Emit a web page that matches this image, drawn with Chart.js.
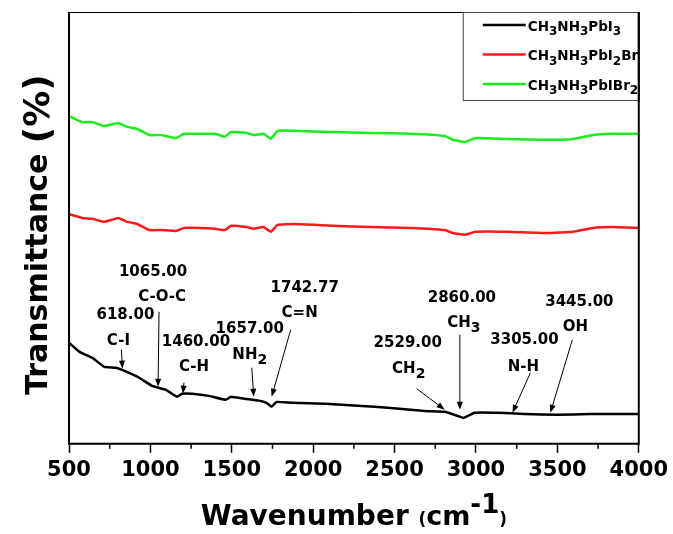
<!DOCTYPE html>
<html>
<head>
<meta charset="utf-8">
<script src="https://cdn.jsdelivr.net/npm/chart.js@4.4.1/dist/chart.umd.min.js"></script>
<style>
  html, body { margin: 0; padding: 0; background: #fff; }
  #wrap { width: 673px; height: 534px; }
</style>
</head>
<body>
<div id="wrap"><canvas id="ftir" width="673" height="534"></canvas></div>
<script>
// wavenumbers (cm-1)
const wnMixed = [500, 582, 644, 717, 803, 858, 919, 992, 1066, 1158, 1207, 1305, 1397, 1458, 1494, 1592, 1635, 1696, 1739, 1782, 1880, 2118, 2357, 2595, 2809, 2858, 2931, 2998, 3194, 3432, 3597, 3720, 3836, 4000];
// CH3NH3PbIBr2 (green)
const tIBr2 = [75.9, 74.5, 74.5, 73.6, 74.3, 73.4, 72.9, 71.5, 71.5, 70.8, 71.8, 71.8, 71.8, 71.1, 72.2, 72.0, 71.5, 71.8, 70.6, 72.5, 72.5, 72.2, 72.0, 71.8, 71.3, 70.4, 69.9, 70.8, 70.6, 70.4, 70.6, 71.5, 71.8, 71.8];
// CH3NH3PbI2Br (red)
const tI2Br = [53.2, 52.3, 52.1, 51.4, 52.3, 51.4, 50.9, 49.5, 49.5, 49.3, 50.0, 50.0, 49.8, 49.5, 50.5, 50.2, 49.8, 50.2, 49.1, 50.7, 50.9, 50.5, 50.2, 50.0, 49.5, 48.8, 48.4, 49.1, 49.1, 48.8, 49.1, 50.0, 50.2, 50.0];
// CH3NH3PbI3 (black)
const wnPbI3 = [500, 564, 644, 717, 790, 852, 931, 1011, 1096, 1163, 1195, 1257, 1360, 1463, 1494, 1586, 1665, 1713, 1744, 1775, 1866, 2073, 2275, 2477, 2685, 2808, 2869, 2924, 2991, 3132, 3297, 3499, 3700, 4000];
const tPbI3 = [23.4, 21.3, 19.9, 17.8, 17.6, 16.7, 15.3, 13.4, 12.5, 10.9, 11.6, 11.6, 11.1, 10.2, 10.9, 10.4, 10.0, 9.5, 8.6, 9.7, 9.5, 9.3, 8.8, 8.3, 7.6, 7.4, 6.7, 6.0, 7.2, 7.2, 6.9, 6.7, 6.9, 6.9];

// "_" marks the next character as a subscript
const seriesLabels = ['CH_3NH_3PbI_3', 'CH_3NH_3PbI_2Br', 'CH_3NH_3PbIBr_2'];
const seriesColors = ['#000000', '#ff1a1a', '#1aee1a'];

const xTicks = [500, 1000, 1500, 2000, 2500, 3000, 3500, 4000];

const peakValues = ['618.00', '1065.00', '1460.00', '1657.00', '1742.77', '2529.00', '2860.00', '3305.00', '3445.00'];
const peakGroups = ['C-I', 'C-O-C', 'C-H', 'NH_2', 'C=N', 'CH_2', 'CH_3', 'N-H', 'OH'];

// where each arrow points (data units) and where its tail / texts sit (px from the tip)
const peakLayout = [
  { tip: [828, 17.4],  tail: [-1, -19],  group: [-4, -28],  num: [3, -54] },
  { tip: [1047, 13.2], tail: [1, -75],   group: [4, -90],   num: [-5, -115] },
  { tip: [1200, 11.6], tail: [1, -11],   group: [11, -27],  num: [13, -52] },
  { tip: [1635, 10.9], tail: [-2, -29],  group: [-4, -42],  num: [-4, -68] },
  { tip: [1745, 10.9], tail: [19, -67],  group: [28, -84],  num: [33, -109] },
  { tip: [2808, 7.9],  tail: [-28, -21], group: [-36, -41], num: [-37, -67] },
  { tip: [2901, 7.9],  tail: [0, -75],   group: [4, -87],   num: [2, -112] },
  { tip: [3224, 7.2],  tail: [18, -40],  group: [11, -46],  num: [12, -73] },
  { tip: [3457, 7.2],  tail: [22, -73],  group: [25, -86],  num: [29, -111] }
];

const FONT = '"DejaVu Sans", sans-serif';

function richParts(str) {
  const parts = [];
  for (let i = 0; i < str.length; i++) {
    if (str[i] === '_') {
      parts.push({ t: str[i + 1], sub: true });
      i++;
    } else {
      const last = parts[parts.length - 1];
      if (last && !last.sub) last.t += str[i];
      else parts.push({ t: str[i], sub: false });
    }
  }
  return parts;
}

function drawRich(ctx, str, x, y, size, subSize, subDrop, center) {
  const parts = richParts(str);
  let w = 0;
  parts.forEach(p => {
    ctx.font = 'bold ' + (p.sub ? subSize : size) + 'px ' + FONT;
    p.w = ctx.measureText(p.t).width;
    w += p.w;
  });
  let cx = center ? x - w / 2 : x;
  ctx.textAlign = 'left';
  ctx.textBaseline = 'middle';
  parts.forEach(p => {
    ctx.font = 'bold ' + (p.sub ? subSize : size) + 'px ' + FONT;
    ctx.fillText(p.t, cx, p.sub ? y + subDrop : y);
    cx += p.w;
  });
}

function arrow(ctx, x1, y1, x2, y2) {
  const a = Math.atan2(y2 - y1, x2 - x1);
  const len = 8, half = 3;
  ctx.beginPath();
  ctx.moveTo(x1, y1);
  ctx.lineTo(x2 - Math.cos(a) * len * 0.8, y2 - Math.sin(a) * len * 0.8);
  ctx.stroke();
  ctx.beginPath();
  ctx.moveTo(x2, y2);
  ctx.lineTo(x2 - Math.cos(a) * len + Math.sin(a) * half, y2 - Math.sin(a) * len - Math.cos(a) * half);
  ctx.lineTo(x2 - Math.cos(a) * len - Math.sin(a) * half, y2 - Math.sin(a) * len + Math.cos(a) * half);
  ctx.closePath();
  ctx.fill();
}

// frame, minor ticks, axis titles, peak labels and legend
const decor = {
  id: 'decor',
  afterDraw(chart) {
    const ctx = chart.ctx;
    const a = chart.chartArea;
    const xs = chart.scales.x, ys = chart.scales.y;
    ctx.save();
    ctx.strokeStyle = '#000';
    ctx.fillStyle = '#000';

    // minor ticks halfway between labelled ones
    ctx.lineWidth = 1.5;
    for (let i = 0; i < xTicks.length - 1; i++) {
      const px = xs.getPixelForValue((xTicks[i] + xTicks[i + 1]) / 2);
      ctx.beginPath();
      ctx.moveTo(px, a.bottom);
      ctx.lineTo(px, a.bottom + 5);
      ctx.stroke();
    }

    // frame
    ctx.lineWidth = 2;
    ctx.beginPath();
    ctx.moveTo(a.left, a.top);
    ctx.lineTo(a.left, a.bottom);
    ctx.lineTo(a.right, a.bottom);
    ctx.lineTo(a.right, a.top);
    ctx.stroke();
    ctx.lineWidth = 1;
    ctx.beginPath();
    ctx.moveTo(a.left, a.top + 0.5);
    ctx.lineTo(a.right, a.top + 0.5);
    ctx.stroke();

    // peak annotations
    ctx.lineWidth = 1;
    peakLayout.forEach((p, i) => {
      const tx = xs.getPixelForValue(p.tip[0]);
      const ty = ys.getPixelForValue(p.tip[1]);
      arrow(ctx, tx + p.tail[0], ty + p.tail[1], tx, ty);
      drawRich(ctx, peakGroups[i], tx + p.group[0], ty + p.group[1], 15, 14, 6, true);
      drawRich(ctx, peakValues[i], tx + p.num[0], ty + p.num[1], 15, 14, 6, true);
    });

    // x title: Wavenumber (cm-1)
    const base = 525;
    const pieces = [
      { t: 'Wavenumber ', s: 28, dy: 0 },
      { t: '(', s: 17, dy: 0 },
      { t: 'cm', s: 27, dy: 0 },
      { t: '-1', s: 26, dy: -12 },
      { t: ')', s: 17, dy: 0 }
    ];
    let tw = 0;
    pieces.forEach(p => { ctx.font = 'bold ' + p.s + 'px ' + FONT; p.w = ctx.measureText(p.t).width; tw += p.w; });
    let cx = (a.left + a.right) / 2 - tw / 2;
    ctx.textAlign = 'left';
    ctx.textBaseline = 'alphabetic';
    pieces.forEach(p => {
      ctx.font = 'bold ' + p.s + 'px ' + FONT;
      ctx.fillText(p.t, cx, base + p.dy);
      cx += p.w;
    });

    // y title: Transmittance (%)
    ctx.save();
    ctx.translate(47, 395);
    ctx.rotate(-Math.PI / 2);
    ctx.font = 'bold 30px ' + FONT;
    ctx.fillText('Transmittance ', 0, 0);
    const w1 = ctx.measureText('Transmittance ').width;
    ctx.font = 'bold 36px ' + FONT;
    ctx.fillText('(%)', w1, 2);
    ctx.restore();

    // legend box in the top right corner
    const bx = a.right - 176, by = a.top, bw = 176, bh = 88;
    ctx.fillStyle = '#fff';
    ctx.fillRect(bx, by, bw, bh);
    ctx.strokeStyle = '#444';
    ctx.lineWidth = 1;
    ctx.strokeRect(bx + 0.5, by + 0.5, bw - 1, bh);
    ctx.save();
    ctx.beginPath();
    ctx.rect(bx, by, bw, bh + 2);
    ctx.clip();
    chart.data.datasets.forEach((ds, i) => {
      const ly = by + 13 + i * 29.5;
      ctx.strokeStyle = ds.borderColor;
      ctx.lineWidth = 2.5;
      ctx.beginPath();
      ctx.moveTo(bx + 20, ly);
      ctx.lineTo(bx + 63, ly);
      ctx.stroke();
      ctx.fillStyle = '#000';
      drawRich(ctx, ds.label, bx + 65, ly + 2, 13.5, 12, 5, false);
    });
    ctx.restore();
    ctx.strokeStyle = '#000';
    ctx.lineWidth = 2;
    ctx.beginPath();
    ctx.moveTo(a.right, a.top);
    ctx.lineTo(a.right, a.top + bh + 2);
    ctx.stroke();
    ctx.restore();
  }
};

const toPoints = (xs, ys) => xs.map((x, i) => ({ x: x, y: ys[i] }));

new Chart(document.getElementById('ftir').getContext('2d'), {
  type: 'line',
  data: {
    datasets: [
      { label: seriesLabels[0], data: toPoints(wnPbI3, tPbI3), borderColor: seriesColors[0] },
      { label: seriesLabels[1], data: toPoints(wnMixed, tI2Br), borderColor: seriesColors[1] },
      { label: seriesLabels[2], data: toPoints(wnMixed, tIBr2), borderColor: seriesColors[2] }
    ]
  },
  options: {
    responsive: false,
    animation: false,
    events: [],
    datasets: {
      line: { borderWidth: 2.5, pointRadius: 0, fill: false, tension: 0.1 }
    },
    layout: { padding: { left: 69, right: 31, top: 12, bottom: 46 } },
    plugins: {
      legend: { display: false },
      tooltip: { enabled: false }
    },
    scales: {
      x: {
        type: 'linear',
        min: xTicks[0],
        max: xTicks[xTicks.length - 1],
        border: { display: false },
        grid: { drawOnChartArea: false, drawTicks: true, tickLength: 9, tickColor: '#000', tickWidth: 1.5 },
        ticks: {
          stepSize: 500,
          padding: 5,
          color: '#000',
          font: { family: FONT, size: 21, weight: 'bold' },
          maxRotation: 0,
          callback: v => String(v)
        }
      },
      y: {
        display: false,
        min: 0,
        max: 100
      }
    }
  },
  plugins: [decor]
});
</script>
</body>
</html>
